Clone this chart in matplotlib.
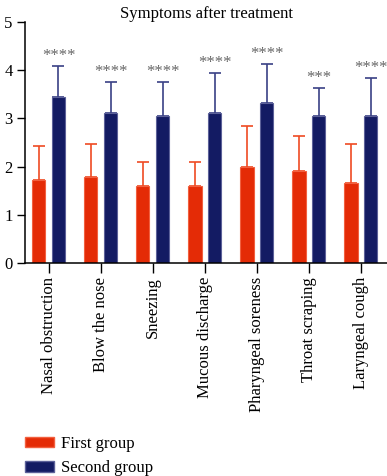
import numpy as np
import matplotlib.pyplot as plt
from matplotlib.patches import Patch

plt.rcParams['font.family'] = ['Liberation Serif', 'DejaVu Serif']

symptoms = ['Nasal obstruction', 'Blow the nose', 'Sneezing', 'Mucous discharge',
            'Pharyngeal soreness', 'Throat scraping', 'Laryngeal cough']
first_mean = [1.72, 1.79, 1.60, 1.60, 1.99, 1.92, 1.66]
first_sd = [0.71, 0.68, 0.50, 0.50, 0.85, 0.71, 0.81]
second_mean = [3.44, 3.11, 3.04, 3.11, 3.32, 3.04, 3.04]
second_sd = [0.65, 0.64, 0.71, 0.84, 0.81, 0.60, 0.80]
stars = ['****', '****', '****', '****', '****', '***', '****']

red = '#E42B06'
red_edge = '#F2603F'
blue = '#131B63'
blue_edge = '#5C6199'

fig = plt.figure(figsize=(3.87, 4.76), dpi=100)
ax = fig.add_axes([0.065, 0.447, 0.935, 0.507])

x = np.arange(len(symptoms))
w = 0.255
off = 0.19

ax.bar(x - off, first_mean, w, color=red, edgecolor=red_edge, linewidth=0.8, zorder=2)
ax.bar(x + off, second_mean, w, color=blue, edgecolor=blue_edge, linewidth=0.8, zorder=2)
ax.errorbar(x - off, first_mean, yerr=[np.zeros(len(x)), first_sd], fmt='none',
            ecolor='#EF4A22', elinewidth=1.2, capsize=4.5, capthick=1.2, zorder=1)
ax.errorbar(x + off, second_mean, yerr=[np.zeros(len(x)), second_sd], fmt='none',
            ecolor='#3A4185', elinewidth=1.2, capsize=4.5, capthick=1.2, zorder=1)

for xi, m, s, st in zip(x, second_mean, second_sd, stars):
    ax.text(xi + off, m + s + 0.04, st, ha='center', va='bottom',
            fontsize=12, color='#666666')

ax.set_xlim(-0.45, 6.5)
ax.set_ylim(0, 5)
ax.set_yticks([0, 1, 2, 3, 4, 5])
ax.set_xticks(x)
ax.set_xticklabels(symptoms, rotation=90, fontsize=12)
ax.tick_params(axis='y', labelsize=12, length=6, width=1, direction='out', pad=3)
ax.tick_params(axis='x', length=7, width=1, direction='out', pad=3)
ax.spines['top'].set_visible(False)
ax.spines['right'].set_visible(False)
ax.spines['left'].set_linewidth(1.1)
ax.spines['bottom'].set_linewidth(1.1)
ax.set_title('Symptoms after treatment', fontsize=12, pad=3)

handles = [Patch(facecolor=red, edgecolor=red_edge, label='First group'),
           Patch(facecolor=blue, edgecolor=blue_edge, label='Second group')]
fig.legend(handles=handles, loc='lower left', bbox_to_anchor=(0.025, -0.032),
           frameon=False, fontsize=12, handlelength=1.75, handleheight=0.6,
           labelspacing=0.5, handletextpad=0.4)

fig.savefig('out.png', dpi=100)
